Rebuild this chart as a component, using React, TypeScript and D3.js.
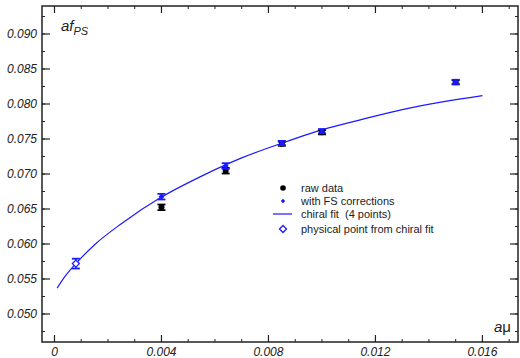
import React from 'react';
import * as d3 from 'd3';

// raw data (black)
const rawMu = [0.004, 0.0064, 0.0085, 0.01, 0.015];
const rawF = [0.06524, 0.07047, 0.07433, 0.07596, 0.0831];
const rawErr = [0.0004, 0.0004, 0.0003, 0.0003, 0.0003];

// with FS corrections (blue)
const fsMu = [0.004, 0.0064, 0.0085, 0.01, 0.015];
const fsF = [0.06676, 0.07114, 0.07443, 0.07612, 0.08316];
const fsErr = [0.0004, 0.0004, 0.0003, 0.0003, 0.0003];

// physical point from chiral fit
const physMu = [0.0008];
const physF = [0.0572];
const physErr = [0.0007];

// chiral fit curve
const fitMu = [0.0001, 0.0004, 0.0008, 0.0015, 0.0025, 0.004, 0.0055, 0.007, 0.0085, 0.01, 0.0115, 0.013, 0.0145, 0.016];
const fitF = [0.0537, 0.0554, 0.0572, 0.0599, 0.0629, 0.0667, 0.0697, 0.0723, 0.0744, 0.0763, 0.0778, 0.0792, 0.0803, 0.0812];

const xMajor = [0, 0.004, 0.008, 0.012, 0.016];
const xMinor = d3.range(0, 0.0175, 0.001);
const yMajor = [0.05, 0.055, 0.06, 0.065, 0.07, 0.075, 0.08, 0.085, 0.09];
const yMinor = d3.range(0.0475, 0.0935, 0.0025);
const xTickLabels = ['0', '0.004', '0.008', '0.012', '0.016'];
const yTickLabels = ['0.050', '0.055', '0.060', '0.065', '0.070', '0.075', '0.080', '0.085', '0.090'];

const legendItems = ['raw data', 'with FS corrections', 'chiral fit  (4 points)', 'physical point from chiral fit'];

const BLUE = '#1a1aff';
const FONT = "'Liberation Sans', Arial, sans-serif";

export default function App() {
  const left = 42;
  const right = 518;
  const top = 6;
  const bottom = 342;

  const x = d3.scaleLinear().domain([-0.000467, 0.01733]).range([left, right]);
  const y = d3.scaleLinear().domain([0.046, 0.094]).range([bottom, top]);

  const fitLine = d3
    .line<number>()
    .x((_, i) => x(fitMu[i]))
    .y((d) => y(d))
    .curve(d3.curveMonotoneX);

  const errBar = (mx: number, v: number, e: number, color: string, key: string) => {
    const cx = x(mx);
    const y1 = y(v + e);
    const y2 = y(v - e);
    return (
      <g key={key} stroke={color} strokeWidth={1.3}>
        <line x1={cx} x2={cx} y1={y1} y2={y2} />
        <line x1={cx - 4} x2={cx + 4} y1={y1} y2={y1} strokeWidth={1.8} />
        <line x1={cx - 4} x2={cx + 4} y1={y2} y2={y2} strokeWidth={1.8} />
      </g>
    );
  };

  const diamond = (cx: number, cy: number, r: number) =>
    `M${cx},${cy - r}L${cx + r},${cy}L${cx},${cy + r}L${cx - r},${cy}Z`;

  const legX = 283;
  const legRows = [188, 201, 214, 229];

  return (
    <div style={{ position: 'absolute', left: 0, top: 0 }}>
      <svg width={520} height={358} style={{ display: 'block', background: '#fff' }}>
        {/* fit curve */}
        <path d={fitLine(fitF) || ''} fill="none" stroke={BLUE} strokeWidth={1.2} />

        {/* raw data */}
        {rawMu.map((m, i) => (
          <g key={'r' + i}>
            {errBar(m, rawF[i], rawErr[i], '#000', 're' + i)}
            <circle cx={x(m)} cy={y(rawF[i])} r={3} fill="#000" />
          </g>
        ))}

        {/* FS corrected */}
        {fsMu.map((m, i) => (
          <g key={'f' + i}>
            {errBar(m, fsF[i], fsErr[i], BLUE, 'fe' + i)}
            <path d={diamond(x(m), y(fsF[i]), 3)} fill={BLUE} />
          </g>
        ))}

        {/* physical point */}
        {physMu.map((m, i) => (
          <g key={'p' + i}>
            {errBar(m, physF[i], physErr[i], BLUE, 'pe' + i)}
            <path d={diamond(x(m), y(physF[i]), 3.5)} fill="#fff" stroke={BLUE} strokeWidth={1.3} />
          </g>
        ))}

        {/* frame */}
        <rect x={left} y={top} width={right - left} height={bottom - top} fill="none" stroke="#222" strokeWidth={1.5} />

        {/* x ticks */}
        {xMinor.map((v, i) => (
          <g key={'xm' + i} stroke="#222" strokeWidth={1}>
            <line x1={x(v)} x2={x(v)} y1={bottom} y2={bottom - 3} />
            <line x1={x(v)} x2={x(v)} y1={top} y2={top + 3} />
          </g>
        ))}
        {xMajor.map((v, i) => (
          <g key={'xM' + i}>
            <line x1={x(v)} x2={x(v)} y1={bottom} y2={bottom - 7} stroke="#222" strokeWidth={1.2} />
            <line x1={x(v)} x2={x(v)} y1={top} y2={top + 7} stroke="#222" strokeWidth={1.2} />
            <text x={x(v)} y={356} textAnchor="middle" fontFamily={FONT} fontStyle="italic" fontSize={12} fill="#222">
              {xTickLabels[i]}
            </text>
          </g>
        ))}

        {/* y ticks */}
        {yMinor.map((v, i) => (
          <g key={'ym' + i} stroke="#222" strokeWidth={1}>
            <line x1={left} x2={left + 3} y1={y(v)} y2={y(v)} />
            <line x1={right} x2={right - 3} y1={y(v)} y2={y(v)} />
          </g>
        ))}
        {yMajor.map((v, i) => (
          <g key={'yM' + i}>
            <line x1={left} x2={left + 8} y1={y(v)} y2={y(v)} stroke="#222" strokeWidth={1.2} />
            <line x1={right} x2={right - 8} y1={y(v)} y2={y(v)} stroke="#222" strokeWidth={1.2} />
            <text x={37} y={y(v)} dy="0.35em" textAnchor="end" fontFamily={FONT} fontStyle="italic" fontSize={12} fill="#222">
              {yTickLabels[i]}
            </text>
          </g>
        ))}

        {/* axis labels */}
        <text x={61} y={31} fontFamily={FONT} fontStyle="italic" fontSize={15} fill="#222">
          af
          <tspan dy={4} fontSize={11}>PS</tspan>
        </text>
        <text x={494} y={332} fontFamily={FONT} fontSize={15} fill="#222">
          <tspan fontStyle="italic">a</tspan>μ
        </text>

        {/* legend */}
        <circle cx={legX} cy={legRows[0]} r={2.8} fill="#000" />
        <path d={diamond(legX, legRows[1], 2.2)} fill={BLUE} />
        <line x1={273} x2={292} y1={legRows[2]} y2={legRows[2]} stroke={BLUE} strokeWidth={1.2} />
        <path d={diamond(legX, legRows[3], 3.5)} fill="#fff" stroke={BLUE} strokeWidth={1.3} />
        {legendItems.map((t, i) => (
          <text key={'l' + i} x={301} y={legRows[i]} dy="0.35em" fontFamily={FONT} fontSize={11} fill="#222" style={{ whiteSpace: 'pre' }}>
            {t}
          </text>
        ))}
      </svg>
    </div>
  );
}
